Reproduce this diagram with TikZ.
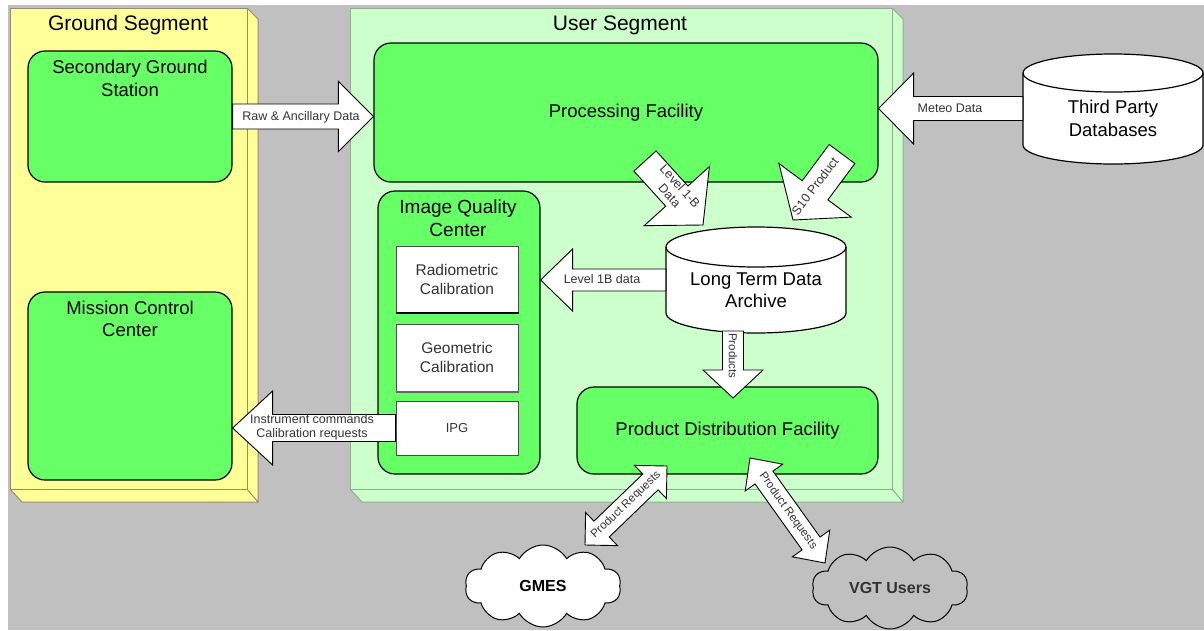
\documentclass[tikz,border=0pt]{standalone}
\usepackage{fontspec}
\setmainfont{Liberation Sans}
\usetikzlibrary{calc,shapes.symbols}

\definecolor{bggray}{HTML}{C0C0C0}
\definecolor{segyellow}{HTML}{FFFF99}
\definecolor{seggreen}{HTML}{CCFFCC}
\definecolor{boxgreen}{HTML}{66FF66}
\definecolor{yedge}{HTML}{8F8F70}
\definecolor{gedge}{HTML}{8FAF8F}
\definecolor{txtgray}{HTML}{333333}

% straight block arrow: tail, tip, half shaft width, half head width, head length, name
\newcommand\flatarrow[6]{%
  \coordinate (#6-hb) at ($(#2)!#5!(#1)$);
  \draw[barrow] ($(#1)!#3!90:(#2)$) -- ($(#6-hb)!#3!90:(#2)$) -- ($(#6-hb)!#4!90:(#2)$) -- (#2)
    -- ($(#6-hb)!#4!-90:(#2)$) -- ($(#6-hb)!#3!-90:(#2)$) -- ($(#1)!#3!-90:(#2)$) -- cycle;
}
% double-headed block arrow: end A, end B, half shaft, half head, head length, name
\newcommand\twinarrow[6]{%
  \coordinate (#6-ha) at ($(#1)!#5!(#2)$);
  \coordinate (#6-hb) at ($(#2)!#5!(#1)$);
  \draw[barrow] (#1) -- ($(#6-ha)!#4!90:(#2)$) -- ($(#6-ha)!#3!90:(#2)$) -- ($(#6-hb)!#3!90:(#2)$)
    -- ($(#6-hb)!#4!90:(#2)$) -- (#2) -- ($(#6-hb)!#4!-90:(#2)$) -- ($(#6-hb)!#3!-90:(#2)$)
    -- ($(#6-ha)!#3!-90:(#2)$) -- ($(#6-ha)!#4!-90:(#2)$) -- cycle;
}
% database cylinder: left, right, top centre y, bottom centre y, y radius
\newcommand\dbcylinder[5]{%
  \pgfmathsetmacro\cylrx{(#2-#1)/2}
  \draw[db] (#1,#3) -- (#1,#4) arc[start angle=180,end angle=360,x radius=\cylrx pt,y radius=#5pt]
    -- (#2,#3) arc[start angle=0,end angle=180,x radius=\cylrx pt,y radius=#5pt] -- cycle;
  \draw[db, fill=none] (#1,#3) arc[start angle=180,end angle=360,x radius=\cylrx pt,y radius=#5pt];
}

\begin{document}
\begin{tikzpicture}[x=1pt,y=-1pt,
  gbox/.style={draw=black, line width=1.2pt, fill=boxgreen, rounded corners=17pt, inner sep=0pt},
  wbox/.style={draw=black!70, line width=1pt, fill=white, minimum width=122pt, inner sep=0pt,
    font=\fontsize{15.5}{19}\selectfont, align=center, text=txtgray},
  bigtxt/.style={font=\fontsize{21}{25}\selectfont, align=center},
  boxtxt/.style={font=\fontsize{18.5}{22.5}\selectfont, align=center, inner sep=0pt},
  arrtxt/.style={font=\fontsize{12.5}{14}\selectfont, align=center, inner sep=0pt, text=txtgray},
  smalltxt/.style={font=\fontsize{11.5}{13}\selectfont, align=center, inner sep=0pt, text=txtgray},
  barrow/.style={draw=black, line width=0.9pt, fill=white, line join=miter},
  db/.style={draw=black, line width=1.2pt, fill=white},
  cloudbox/.style={cloud, cloud puffs=10, cloud puff arc=120, draw=black, line width=1pt,
    minimum width=156pt, minimum height=82pt, aspect=1.9, inner sep=0pt,
    font=\bfseries\fontsize{16}{19}\selectfont},
]
\useasboundingbox (0,0) rectangle (1204,630);
\fill[white] (0,0) rectangle (1204,630);
\fill[bggray] (8,5) rectangle (1204,630);

% ---- Ground Segment panel (3D slab)
\fill[segyellow] (10,8) -- (247,8) -- (258,19) -- (258,502) -- (22,502) -- (10,489) -- cycle;
\draw[yedge, line width=1pt] (247,8) -- (258,19) -- (258,502) -- (22,502) -- (10,489)
  (247,489) -- (258,502);
\node (gseg) [draw=yedge, line width=1pt, fill=segyellow, anchor=north west, inner sep=0pt,
  minimum width=237pt, minimum height=481pt] at (10,8) {};
\node (gstitle) [bigtxt] at (128,25) {Ground Segment};

% ---- User Segment panel (3D slab)
\fill[seggreen] (350,8) -- (892,8) -- (903,19) -- (903,502) -- (362,502) -- (350,489) -- cycle;
\draw[gedge, line width=1pt] (892,8) -- (903,19) -- (903,502) -- (362,502) -- (350,489)
  (892,489) -- (903,502);
\node (useg) [draw=gedge, line width=1pt, fill=seggreen, anchor=north west, inner sep=0pt,
  minimum width=542pt, minimum height=481pt] at (350,8) {};
\node (ustitle) [bigtxt] at (620,25) {User Segment};

% ---- ground facilities
\node (sgs) [gbox, minimum width=204pt, minimum height=131pt] at (130,116.5) {};
\node (sgstitle) [boxtxt] at (130,78.5) {Secondary Ground\\Station};
\node (mcc) [gbox, minimum width=204pt, minimum height=188pt] at (130,386) {};
\node (mcctitle) [boxtxt] at (130,319) {Mission Control\\Center};

% ---- user facilities
\node (pf) [gbox, boxtxt, minimum width=504pt, minimum height=139pt] at (626,112.5) {Processing Facility};
\node (iqc) [gbox, minimum width=162pt, minimum height=283pt] at (459,332.5) {};
\node (iqctitle) [boxtxt, font=\fontsize{19}{23}\selectfont] at (458,218.5) {Image Quality\\Center};
\node (rad) [wbox, minimum height=66pt] at (457,279) {Radiometric\\Calibration};
\node (geo) [wbox, minimum height=67pt] at (457,357.5) {Geometric\\Calibration};
\node (ipg) [wbox, minimum height=54pt, font=\fontsize{13}{16}\selectfont] at (457,428) {IPG};
\draw[black, line width=2pt] (rad.south west) -- (rad.south east);
\draw[black!60, line width=2pt] (geo.south west) -- (geo.south east);
\node (pdf) [gbox, boxtxt, minimum width=301pt, minimum height=87pt] at (727.5,430.5) {Product Distribution Facility};

% ---- databases
\dbcylinder{1023}{1203}{73}{145}{19}
\node (tpd) [boxtxt, minimum width=180pt, minimum height=91pt] at (1113,118.5) {Third Party\\Databases};
\dbcylinder{666}{846}{247}{313}{20}
\node (ltda) [boxtxt, minimum width=180pt, minimum height=86pt] at (756,290) {Long Term Data\\Archive};

% ---- data flows
\coordinate (raw-t) at (sgs.east);
\coordinate (raw-h) at (sgs.east -| pf.west);
\flatarrow{raw-t}{raw-h}{12.5pt}{35pt}{35pt}{raw}
\node (rawlbl) [arrtxt] at (301,117) {Raw \& Ancillary Data};

\coordinate (met-t) at ($(tpd.west)+(0,-10)$);
\coordinate (met-h) at (met-t -| pf.east);
\flatarrow{met-t}{met-h}{12pt}{35.5pt}{35pt}{met}
\node (metlbl) [arrtxt] at (950,108) {Meteo Data};

\coordinate (l1-t) at (645,161);
\coordinate (l1-h) at (703,225);
\flatarrow{l1-t}{l1-h}{15pt}{44pt}{39pt}{l1}
\node (l1lbl) [arrtxt, rotate=-48] at (675,191) {Level 1-B\\Data};

\coordinate (s10-t) at (842,154);
\coordinate (s10-h) at (793,220);
\flatarrow{s10-t}{s10-h}{16pt}{45pt}{37pt}{s10}
\node (s10lbl) [arrtxt, rotate=53] at (815,186) {S10 Product};

\coordinate (lb-t) at ($(ltda.west)+(0,-10)$);
\coordinate (lb-h) at (lb-t -| iqc.east);
\flatarrow{lb-t}{lb-h}{11pt}{31pt}{32pt}{lb}
\node (lblbl) [arrtxt] at (602,279) {Level 1B data};

\coordinate (pr-t) at (733,331);
\coordinate (pr-h) at (733,398);
\flatarrow{pr-t}{pr-h}{10.5pt}{30pt}{28pt}{pr}
\node (prlbl) [smalltxt, rotate=-90] at (733,356) {Products};

\coordinate (ic-t) at (ipg.west);
\coordinate (ic-h) at (ipg.west -| mcc.east);
\flatarrow{ic-t}{ic-h}{13.5pt}{37pt}{40pt}{ic}
\node (iclbl) [arrtxt] at (312,427) {Instrument commands\\Calibration requests};

\coordinate (gr-a) at (585,545);
\coordinate (gr-b) at (667,466);
\twinarrow{gr-a}{gr-b}{11pt}{23pt}{23pt}{gr}
\node (grlbl) [smalltxt, rotate=44] at (626,505) {Product Requests};

\coordinate (vr-a) at (750,458);
\coordinate (vr-b) at (825,563);
\twinarrow{vr-a}{vr-b}{11pt}{23pt}{24pt}{vr}
\node (vrlbl) [smalltxt, rotate=-54.5] at (788,511) {Product Requests};

% ---- external users
\node (gmes) [cloudbox, fill=white] at (543,586) {GMES};
\node (vgt) [cloudbox, text=txtgray] at (890,588) {VGT Users};
\end{tikzpicture}
\end{document}
